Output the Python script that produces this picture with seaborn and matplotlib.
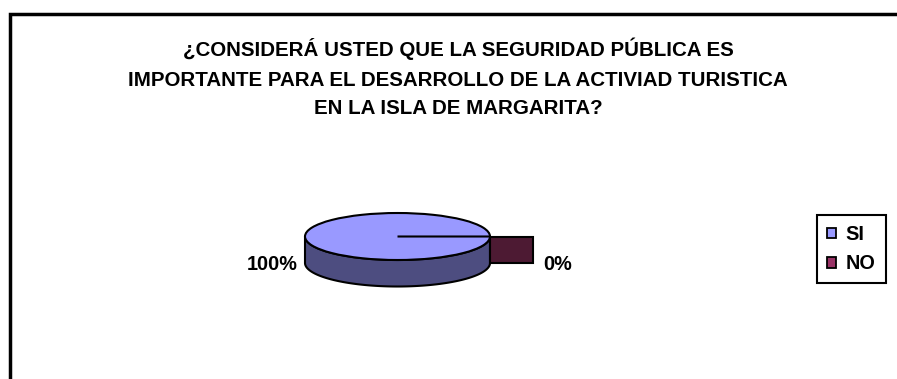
import numpy as np
import matplotlib
matplotlib.use("Agg")
import matplotlib.pyplot as plt
import matplotlib.colors as mcolors
from matplotlib.patches import Polygon, Rectangle, Patch
import seaborn as sns

# Survey answers
categories = ["SI", "NO"]
values = [100, 0]
colors = ["#9999FF", "#993366"]
title_lines = [
    "¿CONSIDERÁ USTED QUE LA SEGURIDAD PÚBLICA ES",
    "IMPORTANTE PARA EL DESARROLLO DE LA ACTIVIAD TURISTICA",
    "EN LA ISLA DE MARGARITA?",
]

sns.set_theme(style="white")
plt.rcParams["font.family"] = ["Liberation Sans", "DejaVu Sans"]
plt.rcParams["font.weight"] = "bold"
plt.rcParams["text.color"] = "black"
FS = 14.3
TITLE_FS = 14.8

W, H, DPI = 897, 379, 100
fig = plt.figure(figsize=(W / DPI, H / DPI), dpi=DPI)
fig.patch.set_facecolor("white")

# pie geometry in pixels: centre, horizontal/vertical radius, wall depth
CX, CY, RX, RY, DEPTH = 397.5, 236.5, 92.5, 23.5, 26.5
ax = fig.add_axes([0, 0, 1, 1])
depth = DEPTH / RY


def shade(c, f=0.5):
    r, g, b = mcolors.to_rgb(c)
    return (r * f, g * f, b * f)


total = float(sum(values))
fracs = [v / total for v in values]
cum = np.concatenate([[0.0], np.cumsum(fracs)])
EDGE = dict(edgecolor="black", linewidth=1.5)

# side walls of the front half (clockwise from 3 o'clock)
for i, c in enumerate(colors):
    lo, hi = -360 * cum[i + 1], -360 * cum[i]
    a0, a1 = max(lo, -180), min(hi, 0)
    if a1 > a0:
        t = np.radians(np.linspace(a0, a1, 200))
        top = np.column_stack([np.cos(t), np.sin(t)])
        bot = np.column_stack([np.cos(t[::-1]), np.sin(t[::-1]) - depth])
        ax.add_patch(Polygon(np.vstack([top, bot]), closed=True,
                             facecolor=shade(c), zorder=1, **EDGE))

# cut face of empty slices
for i, c in enumerate(colors):
    if values[i] == 0:
        a = np.radians(-360 * cum[i])
        ax.add_patch(Rectangle((np.cos(a), np.sin(a) - depth), 0.47, depth,
                               facecolor=shade(c), zorder=1, **EDGE))

wedges, _ = ax.pie(values, colors=colors, startangle=0, counterclock=False,
                   radius=1, wedgeprops=dict(zorder=2, **EDGE))
for w in wedges:
    w.set_zorder(2)

ax.set_aspect("auto")
ax.set_xlim(-CX / RX, (W - CX) / RX)
ax.set_ylim(-(H - CY) / RY, CY / RY)
ax.axis("off")

# percentage labels
pcts = [f"{f * 100:.0f}%" for f in fracs]
ax.text((298 - CX) / RX, (CY - 270.5) / RY, pcts[0], ha="right", va="baseline",
        fontsize=FS, fontweight="bold", color="black")
ax.text((543 - CX) / RX, (CY - 270.5) / RY, pcts[1], ha="left", va="baseline",
        fontsize=FS, fontweight="bold", color="black")

# title
for line, base in zip(title_lines, [55.5, 86, 114.5]):
    fig.text(458 / W, 1 - base / H, line, ha="center", va="baseline",
             fontsize=TITLE_FS, fontweight="bold", color="black")

# legend
handles = [Patch(facecolor=c, edgecolor="black", linewidth=1.3) for c in colors]
leg = fig.legend(handles, categories, loc="upper left",
                 bbox_to_anchor=(817 / W, 1 - 215 / H),
                 frameon=True, fancybox=False, framealpha=1,
                 edgecolor="black", borderpad=0.5, labelspacing=0.53,
                 handlelength=0.45, handleheight=0.45, handletextpad=0.5,
                 borderaxespad=0, prop=dict(weight="bold", size=FS))
leg.get_frame().set_linewidth(1.5)
for txt in leg.get_texts():
    txt.set_color("black")

# chart area border
fig.add_artist(Rectangle((10.3 / W, -0.5), 2, 1.5 - 14.3 / H,
                         transform=fig.transFigure, fill=False,
                         edgecolor="black", linewidth=2.5))

fig.savefig("out.png", dpi=DPI, facecolor="white")
